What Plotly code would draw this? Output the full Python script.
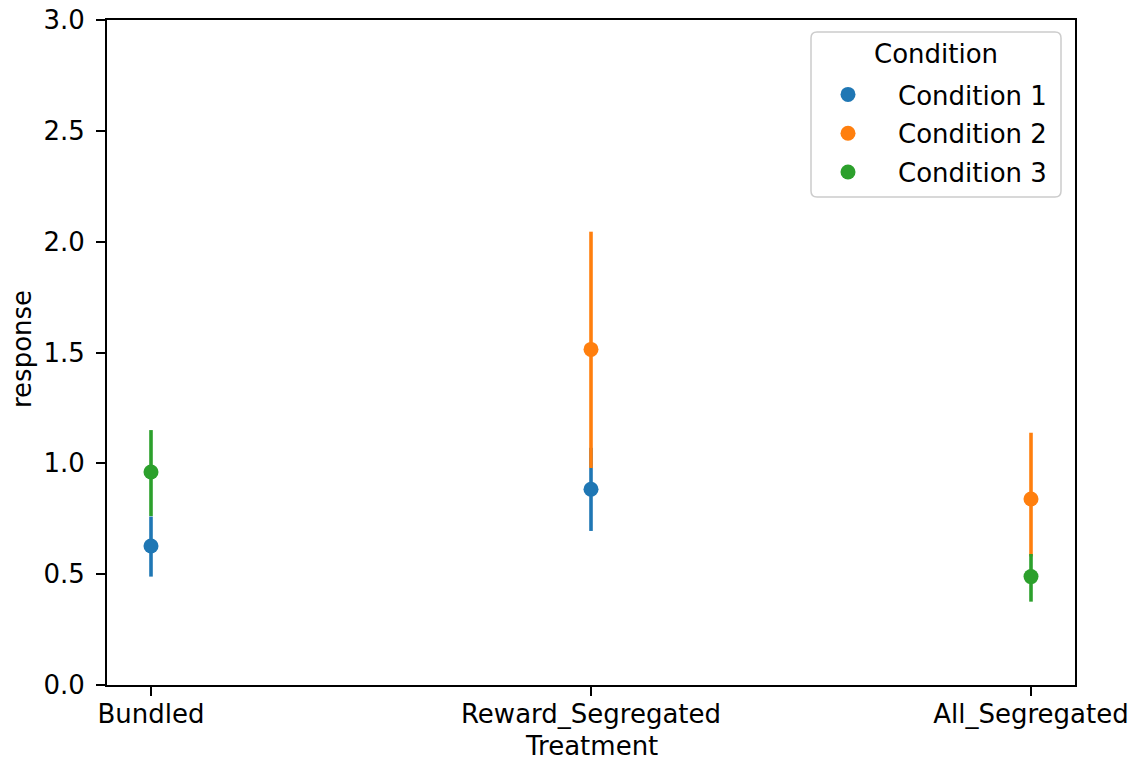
import plotly.graph_objects as go

treatments = ["Bundled", "Reward_Segregated", "All_Segregated"]
conditions = ["Condition 1", "Condition 2", "Condition 3"]
colors = ["#1f77b4", "#ff7f0e", "#2ca02c"]

# per-condition estimates (treatment, mean, ci_low, ci_high)
cond1_x = ["Bundled", "Reward_Segregated"]
cond1_mean = [0.627, 0.883]
cond1_low = [0.489, 0.695]
cond1_high = [0.760, 1.070]

cond2_x = ["Reward_Segregated", "All_Segregated"]
cond2_mean = [1.514, 0.839]
cond2_low = [0.979, 0.580]
cond2_high = [2.045, 1.138]

cond3_x = ["Bundled", "All_Segregated"]
cond3_mean = [0.961, 0.489]
cond3_low = [0.762, 0.376]
cond3_high = [1.150, 0.591]

series = [
    (cond1_x, cond1_mean, cond1_low, cond1_high),
    (cond2_x, cond2_mean, cond2_low, cond2_high),
    (cond3_x, cond3_mean, cond3_low, cond3_high),
]

FONT = "DejaVu Sans"
fig = go.Figure()
for name, col, (xs, m, lo, hi) in zip(conditions, colors, series):
    fig.add_trace(go.Scatter(
        x=xs, y=m, mode="markers", name=name, legendgroup=name,
        marker=dict(color=col, size=15, line=dict(width=0)),
        error_y=dict(type="data", symmetric=False,
                     array=[h - v for h, v in zip(hi, m)],
                     arrayminus=[v - l for v, l in zip(m, lo)],
                     color=col, thickness=3.6, width=0),
    ))

W, H = 1135, 763
L, R, T, B = 107, 1075, 20, 685

def px(xp):
    return (xp - L) / (R - L)

def py(yp):
    return (B - yp) / (B - T)

# legend frame (rounded)
x0, x1, y0, y1 = px(811), px(1061), py(197), py(32)
rx, ry = 6 / (R - L), 6 / (B - T)
path = (f"M {x0+rx},{y0} L {x1-rx},{y0} Q {x1},{y0} {x1},{y0+ry} "
        f"L {x1},{y1-ry} Q {x1},{y1} {x1-rx},{y1} L {x0+rx},{y1} "
        f"Q {x0},{y1} {x0},{y1-ry} L {x0},{y0+ry} Q {x0},{y0} {x0+rx},{y0} Z")
fig.add_shape(type="path", path=path, xref="paper", yref="paper",
              line=dict(color="#cccccc", width=1.5), fillcolor="rgba(255,255,255,0.8)",
              layer="below")

fig.add_annotation(text="Condition", x=px(936), y=py(54), xref="paper", yref="paper",
                   xanchor="center", yanchor="middle", showarrow=False,
                   font=dict(family=FONT, size=26, color="black"))
# axis titles
fig.add_annotation(text="Treatment", x=px(591), y=py(746), xref="paper", yref="paper",
                   xanchor="center", yanchor="middle", showarrow=False, borderpad=0,
                   font=dict(family=FONT, size=26, color="black"))
fig.add_annotation(text="response", x=px(22), y=py(349), xref="paper", yref="paper",
                   xanchor="center", yanchor="middle", showarrow=False, textangle=-90,
                   font=dict(family=FONT, size=26, color="black"))

fig.update_layout(
    width=W, height=H,
    margin=dict(l=L, r=W - R, t=T, b=H - B),
    paper_bgcolor="white", plot_bgcolor="white",
    font=dict(family=FONT, size=26, color="black"),
    showlegend=True,
    legend=dict(
        x=px(798), xanchor="left", y=py(71), yanchor="top",
        bgcolor="rgba(0,0,0,0)", borderwidth=0,
        itemwidth=90, tracegroupgap=2,
        font=dict(size=26),
    ),
    xaxis=dict(
        type="category", categoryorder="array", categoryarray=treatments,
        range=[-0.1, 2.1], automargin=False,
        showline=True, linecolor="black", linewidth=2, mirror=True,
        ticks="outside", ticklen=9, tickwidth=2, tickcolor="black",
        ticklabelstandoff=-4,
        showgrid=False, zeroline=False,
    ),
    yaxis=dict(
        range=[0, 3.0], dtick=0.5, tickformat=".1f", automargin=False,
        showline=True, linecolor="black", linewidth=2, mirror=True,
        ticks="outside", ticklen=9, tickwidth=2, tickcolor="black",
        ticklabelstandoff=6,
        showgrid=False, zeroline=False,
    ),
)

fig.write_html("out.html")
